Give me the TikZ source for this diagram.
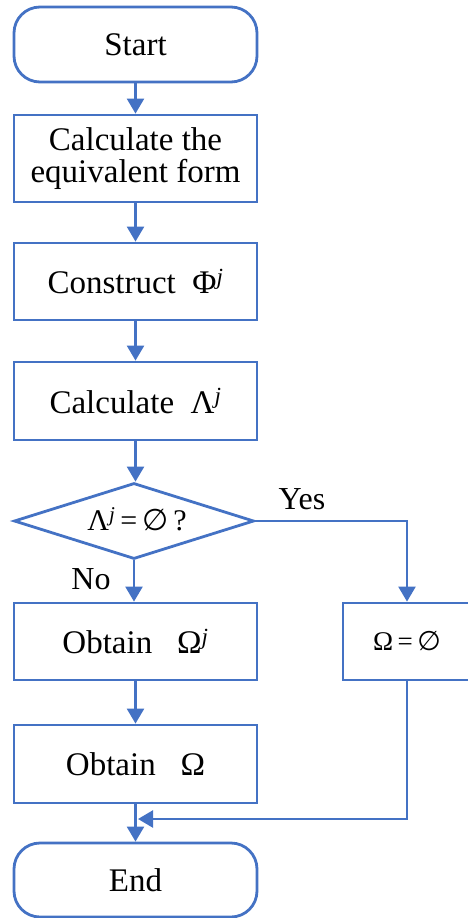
\documentclass[tikz,border=0pt]{standalone}
\usepackage{fontspec}
\setmainfont{Liberation Serif}
\newfontfamily\symfont{DejaVu Sans}
\newcommand{\eset}{{\symfont ∅}}
\usetikzlibrary{shapes.geometric,arrows.meta}
\definecolor{fblue}{RGB}{68,114,196}
\begin{document}
\begin{tikzpicture}[x=1pt,y=-1pt,
  box/.style={draw=fblue,line width=2.8pt,minimum width=243pt,inner sep=0pt,align=center,font=\fontsize{33}{32}\selectfont},
  term/.style={box,rounded corners=26pt},
  dec/.style={diamond,draw=fblue,line width=2.8pt,minimum width=240pt,minimum height=76pt,inner sep=0pt,font=\fontsize{30}{33}\selectfont},
  lbl/.style={font=\fontsize{32}{33}\selectfont,inner sep=0pt},
  flow/.style={draw=fblue,line width=2.4pt,-{Triangle[width=17pt,length=15pt]}}]
\useasboundingbox (0,0) rectangle (467,918);
\node[term,minimum height=75pt] (start) at (135.5,44.5) {Start};
\node[box,minimum height=87pt] (eq) at (135.5,158.5) {Calculate the\\equivalent form};
\node[box,minimum height=77pt] (cons) at (135.5,281.5) {Construct \ Φ\textsuperscript{\textit{j}}};
\node[box,minimum height=78pt] (calc) at (135.5,401) {Calculate \ Λ\textsuperscript{\textit{j}}};
\node[dec] (test) at (134,521) {\makebox[0pt]{\raisebox{-0.33em}[0pt][0pt]{\kern6pt Λ\textsuperscript{\textit{j}}\,=\,\eset\,?}}};
\node[box,minimum height=77pt] (obj) at (135.5,641.5) {Obtain \ \ Ω\textsuperscript{\textit{j}}};
\node[box,minimum width=128pt,minimum height=77pt,font=\fontsize{27}{30}\selectfont] (emp) at (407,641.5) {Ω\,=\,\eset};
\node[box,minimum height=78pt] (obo) at (135.5,764) {Obtain \ \ Ω};
\node[term,minimum height=74pt] (fin) at (135.5,880) {End};
\node[lbl] (yes) at (302,499) {Yes};
\node[lbl] (no) at (91,579) {No};
\coordinate (m) at (138,819);
\draw[flow] (start) -- (eq);
\draw[flow] (eq) -- (cons);
\draw[flow] (cons) -- (calc);
\draw[flow] (calc.south) -- (calc.south |- test.north);
\draw[flow] (test.south) -- (test.south |- obj.north);
\draw[flow] (obj) -- (obo);
\draw[flow] (test.east) -| (emp.north);
\draw[flow] (obo) -- (obo.south |- fin.north);
\draw[flow] (emp.south) |- (m);
\end{tikzpicture}
\end{document}
